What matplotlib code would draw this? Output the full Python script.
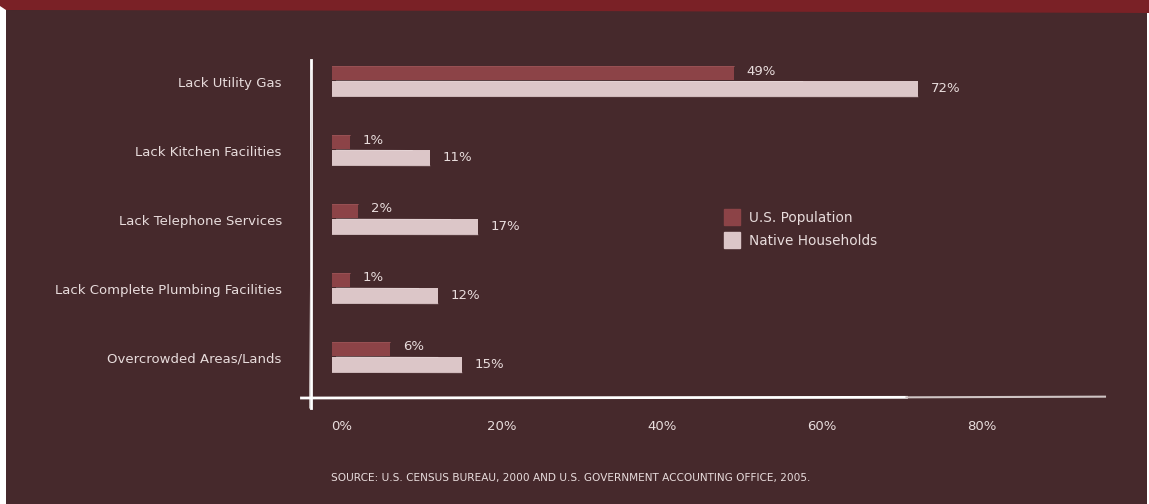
import matplotlib
matplotlib.use('Agg')
import matplotlib.pyplot as plt
from matplotlib.patches import Rectangle, Polygon
from matplotlib.lines import Line2D

# data
categories = ['Lack Utility Gas', 'Lack Kitchen Facilities', 'Lack Telephone Services',
              'Lack Complete Plumbing Facilities', 'Overcrowded Areas/Lands']
us_population = [49, 1, 2, 1, 6]
native_households = [72, 11, 17, 12, 15]
ticks = [0, 20, 40, 60, 80]
source = 'SOURCE: U.S. CENSUS BUREAU, 2000 AND U.S. GOVERNMENT ACCOUNTING OFFICE, 2005.'

BG = '#46292c'
BAND = '#7a2126'
RED = '#8c4347'
PINK = '#dcc6c8'
TXT = '#e8dcdc'

W, H = 1149, 504
fig = plt.figure(figsize=(W / 100, H / 100), dpi=100, facecolor='white')

# dark panel and red band on top
fig.patches.append(Rectangle((6 / W, 0), 1141 / W, 1, transform=fig.transFigure,
                             facecolor=BG, edgecolor='none', zorder=-10))
fig.patches.append(Polygon([(0, 1), (1, 1), (1, 1 - 13 / H), (0.5, 1 - 11 / H), (6 / W, 1 - 10 / H),
                            (0, 1 - 6 / H)], closed=True, transform=fig.transFigure,
                           facecolor=BAND, edgecolor='none', zorder=-9))

ax = fig.add_axes([311 / W, (H - 398) / H, 794 / W, 338 / H])
ax.set_facecolor('none')
ax.set_zorder(2)

n = len(categories)
ypos = [n - 1 - i for i in range(n)]
overhang = 1.2

ax.barh([y + 0.13 for y in ypos], [v + overhang for v in us_population], left=-overhang,
        height=0.21, color=RED, zorder=3)
ax.barh([y - 0.1 for y in ypos], [v + overhang for v in native_households], left=-overhang,
        height=0.24, color=PINK, zorder=3)

# brush-like streaks along the bars
for y, v in zip(ypos, native_households):
    ax.plot([-overhang, v], [y - 0.21, y - 0.215], color='#bfa8aa', lw=0.6, alpha=0.7, zorder=4)
    ax.plot([-overhang + 0.5, v * 0.8], [y + 0.015, y + 0.01], color='#f2e6e7', lw=0.5, alpha=0.6, zorder=4)
for y, v in zip(ypos, us_population):
    ax.plot([-overhang, v], [y + 0.235, y + 0.235], color='#a05a5d', lw=0.6, alpha=0.7, zorder=4)

for y, v in zip(ypos, us_population):
    ax.text(v + 1.6, y + 0.16, f'{v}%', color=TXT, fontsize=9.5, va='center', ha='left')
for y, v in zip(ypos, native_households):
    ax.text(v + 1.6, y - 0.1, f'{v}%', color=TXT, fontsize=9.5, va='center', ha='left')

ax.set_xlim(-3.875, 95.375)
ax.set_ylim(-0.58, 4.32)

ax.set_yticks(ypos)
ax.set_yticklabels(categories, color=TXT, fontsize=9.5)
ax.set_xticks(ticks)
ax.set_xticklabels([f'{t}%' for t in ticks], color=TXT, fontsize=9.5)
ax.tick_params(axis='y', length=0, pad=21)
ax.tick_params(axis='x', length=0, pad=16)

for s in ax.spines.values():
    s.set_visible(False)

# rough white axis lines
ax.add_line(Line2D([0, 0], [-0.03, 1.0], transform=ax.transAxes, color='white', lw=2,
                   clip_on=False, zorder=5))
ax.add_line(Line2D([-0.002, 0.0015], [-0.03, 0.97], transform=ax.transAxes, color='#d8d0d0',
                   lw=0.6, clip_on=False, zorder=5))
ax.add_line(Line2D([-0.012, 0.75], [0, 0.002], transform=ax.transAxes, color='white', lw=2,
                   clip_on=False, zorder=5))
ax.add_line(Line2D([0.75, 1.0], [0.002, 0.004], transform=ax.transAxes, color='#cfc4c4', lw=1.5,
                   clip_on=False, zorder=5))

legend_handles = [
    Line2D([], [], marker='s', ls='none', markersize=12, color=RED, label='U.S. Population'),
    Line2D([], [], marker='s', ls='none', markersize=12, color=PINK, label='Native Households'),
]
fig.legend(handles=legend_handles, loc='upper left', bbox_to_anchor=(725 / W, 1 - 211 / H),
           frameon=False, fontsize=9.8, labelcolor=TXT, handletextpad=0.75, labelspacing=0.65,
           borderaxespad=0, borderpad=0, handlelength=1.0)

fig.text(571 / W, 1 - 478 / H, source, color=TXT, fontsize=7.6, ha='center', va='center')

fig.savefig('out.png', dpi=100, facecolor=fig.get_facecolor())
